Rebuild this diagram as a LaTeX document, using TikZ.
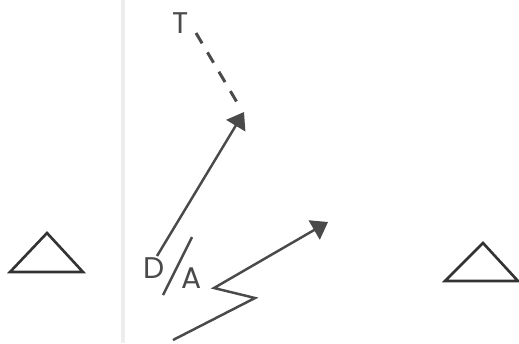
\documentclass[tikz,border=0pt]{standalone}
\usepackage{fontspec}
\setmainfont{Poppins}
\usetikzlibrary{arrows.meta}
\definecolor{inkgray}{HTML}{4A4A4A}
\definecolor{darkink}{HTML}{333333}
\definecolor{guttergray}{HTML}{EDEDED}

\begin{document}
\begin{tikzpicture}[
  x=0.02cm, y=-0.02cm,
  letter/.style={inner sep=0pt, text=inkgray, font=\fontsize{17}{17}\selectfont},
  track/.style={draw=inkgray, line width=1.4pt, line join=miter},
  headarrow/.style={-{Triangle[length=0.32cm, width=0.44cm]}, track},
  dashtrack/.style={draw=inkgray, line width=1.7pt, dash pattern=on 0.24cm off 0.21cm},
  marker/.style={draw=darkink, line width=1.5pt, line join=miter}
]
\useasboundingbox (0,0) rectangle (519,343);
\fill[white] (0,0) rectangle (519,343);
\draw[guttergray, line width=2.4pt] (123,0) -- (123,343);

% labels
\node[letter] (T) at (181,23) {T};
\node[letter] (D) at (154,268) {D};
\node[letter] (A) at (192,278) {A};

% ends of the strokes
\coordinate (tstart) at (196,33);
\coordinate (tend) at (238,104);
\coordinate (dstart) at (157,256);
\coordinate (dtip) at (244,112);
\coordinate (slashtop) at (192,237);
\coordinate (slashbot) at (163,295);
\coordinate (zstart) at (173,340);
\coordinate (zone) at (255,298);
\coordinate (ztwo) at (214,288);
\coordinate (ztip) at (328,222);

\draw[dashtrack] (tstart) -- (tend);
\draw[headarrow] (dstart) -- (dtip);
\draw[track] (slashtop) -- (slashbot);
\draw[headarrow] (zstart) -- (zone) -- (ztwo) -- (ztip);

% triangles
\draw[marker] (10,272) -- (83,272) -- (47,233) -- cycle;
\draw[marker] (445,281) -- (518,281) -- (483,243) -- cycle;
\end{tikzpicture}
\end{document}
